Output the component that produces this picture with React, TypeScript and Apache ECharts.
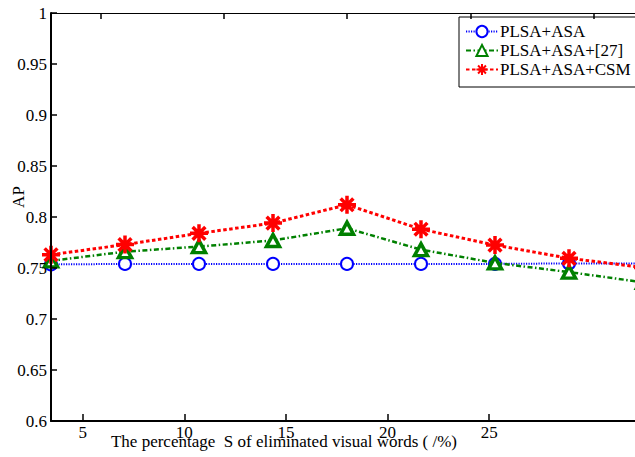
import React, { useEffect, useRef } from "react";
import * as echarts from "echarts";

const xValues = [3, 6, 9, 12, 15, 18, 21, 24, 27];
const plsaAsa = [0.7535, 0.754, 0.754, 0.754, 0.754, 0.754, 0.754, 0.7545, 0.7545];
const plsaAsa27 = [0.757, 0.766, 0.771, 0.777, 0.789, 0.768, 0.755, 0.746, 0.736];
const plsaAsaCsm = [0.763, 0.773, 0.784, 0.794, 0.812, 0.788, 0.7725, 0.7595, 0.7505];
const seriesNames = ["PLSA+ASA", "PLSA+ASA+[27]", "PLSA+ASA+CSM"];
const xTicks = [5, 10, 15, 20, 25];
const xAxisTitle = "The percentage  S of eliminated visual words ( /%)";
const yAxisTitle = "AP";

const FONT = "Liberation Serif";
const ASTERISK =
  "path://M0,-10L0,10M-10,0L10,0M-7.07,-7.07L7.07,7.07M-7.07,7.07L7.07,-7.07";

export default function App() {
  const ref = useRef<HTMLDivElement>(null);
  useEffect(() => {
    if (!ref.current) return;
    const chart = echarts.init(ref.current, undefined, { renderer: "svg" });
    const pairs = (ys: number[]) => xValues.map((x, i) => [x, ys[i]]);
    const tickStyle = { color: "#000000", width: 1.5, opacity: 1 };
    chart.setOption({
      animation: false,
      backgroundColor: "#fff",
      textStyle: { fontFamily: FONT, color: "#000" },
      grid: {
        left: 51,
        top: 13,
        width: 592,
        height: 408,
        containLabel: false,
        outerBoundsMode: "none",
      },
      legend: {
        orient: "vertical",
        left: 459,
        top: 17,
        padding: [6, 10, 9, 6],
        itemGap: 2,
        itemWidth: 32,
        itemHeight: 14,
        backgroundColor: "#fff",
        borderColor: "#000",
        borderWidth: 1,
        borderRadius: 0,
        textStyle: { fontFamily: FONT, fontSize: 17, color: "#000", padding: [0, 0, 0, -3] },
        data: seriesNames,
      },
      xAxis: [
        {
          type: "value",
          position: "top",
          min: 3,
          max: 27,
          z: 10,
          axisLine: { show: true, onZero: false, lineStyle: { color: "#000", width: 1.2 } },
          axisTick: {
            show: true,
            inside: true,
            length: 6,
            interval: 0,
            customValues: xTicks,
            lineStyle: tickStyle,
          },
          axisLabel: { show: false, customValues: xTicks },
          splitLine: { show: false },
        },
        {
          type: "value",
          position: "bottom",
          min: 3.443,
          max: 32.57,
          z: 10,
          name: xAxisTitle,
          nameLocation: "middle",
          nameGap: 12,
          nameMoveOverlap: false,
          nameTextStyle: {
            fontFamily: FONT,
            fontSize: 17,
            color: "#000",
            padding: [0, 126, 0, 0],
          },
          axisLine: { show: true, onZero: false, lineStyle: { color: "#000", width: 2 } },
          axisTick: {
            show: true,
            inside: true,
            length: 7,
            interval: 0,
            customValues: xTicks,
            lineStyle: tickStyle,
          },
          axisLabel: {
            margin: 3,
            fontFamily: FONT,
            fontSize: 17,
            color: "#000",
            customValues: xTicks,
          },
          splitLine: { show: false },
        },
      ],
      yAxis: {
        type: "value",
        min: 0.6,
        max: 1,
        interval: 0.05,
        z: 10,
        name: yAxisTitle,
        nameLocation: "middle",
        nameGap: 24,
        nameMoveOverlap: false,
        nameTextStyle: {
          fontFamily: FONT,
          fontSize: 17,
          color: "#000",
          padding: [0, 0, 0, 40],
        },
        axisLine: { show: true, onZero: false, lineStyle: { color: "#000", width: 2 } },
        axisTick: { show: true, inside: true, length: 6, interval: 0, lineStyle: tickStyle },
        axisLabel: {
          margin: 4,
          fontFamily: FONT,
          fontSize: 17,
          color: "#000",
          formatter: (v: number) => String(parseFloat(v.toFixed(2))),
        },
        splitLine: { show: false },
      },
      series: [
        {
          name: seriesNames[0],
          type: "line",
          xAxisIndex: 0,
          data: pairs(plsaAsa),
          symbol: "emptyCircle",
          symbolSize: 12,
          lineStyle: { color: "#0000ff", width: 2, type: [1.2, 1.3] },
          itemStyle: { color: "#0000ff", borderColor: "#0000ff", borderWidth: 3 },
          z: 2,
        },
        {
          name: seriesNames[1],
          type: "line",
          xAxisIndex: 0,
          data: pairs(plsaAsa27),
          symbol: "triangle",
          symbolSize: [13, 12],
          lineStyle: { color: "#008000", width: 2.5, type: [5, 2.5, 1.5, 2.5] },
          itemStyle: { color: "#ffffff", borderColor: "#008000", borderWidth: 3.5 },
          z: 3,
        },
        {
          name: seriesNames[2],
          type: "line",
          xAxisIndex: 0,
          data: pairs(plsaAsaCsm),
          symbol: ASTERISK,
          symbolSize: 18,
          lineStyle: { color: "#ff0000", width: 3, type: [3.5, 2.5] },
          itemStyle: { color: "#ff0000", borderColor: "#ff0000", borderWidth: 3.5 },
          z: 4,
        },
      ],
    });
    return () => chart.dispose();
  }, []);
  return (
    <div
      ref={ref}
      style={{ position: "fixed", left: 0, top: 0, width: 635, height: 457, background: "#fff" }}
    />
  );
}
